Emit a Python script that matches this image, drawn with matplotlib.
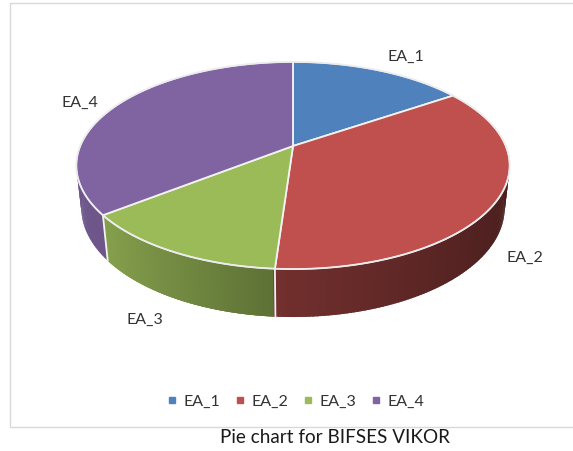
import numpy as np
import matplotlib.pyplot as plt
from matplotlib.colors import to_rgb
from matplotlib.patches import Rectangle
from matplotlib.lines import Line2D

# share of each alternative (BIFSES VIKOR ranking)
labels = ["EA_1", "EA_2", "EA_3", "EA_4"]
values = [15.6, 35.5, 13.4, 35.5]
colors = ["#4F81BD", "#C0504D", "#9BBB59", "#8064A2"]

# where each data label sits (pixels)
label_pos = [(406, 57), (525, 258), (145, 320), (80, 103)]

# --------------------------------------------------
# simple perspective camera for a 3-D disk
# --------------------------------------------------
tilt = np.radians(28)
dist = 4.69
focal = 998
thick = 0.228
cx, cy = 293, 147


def project(x, z, h):
    depth = dist - h * np.sin(tilt) - z * np.cos(tilt)
    X = focal * x / depth
    Y = focal * (h * np.cos(tilt) - z * np.sin(tilt)) / depth
    return cx + X, cy - Y


def rim(t, h):
    # t runs clockwise from the back of the disk
    return project(np.sin(t), -np.cos(t), h)


def shade(rgb, t):
    s = np.sin(t)
    k = 0.58 - 0.35 * s if s < 0 else 0.58 - 0.2 * s
    k = min(max(k, 0.3), 0.86)
    return tuple(c * k for c in rgb)


fig = plt.figure(figsize=(5.73, 4.52), dpi=100)
ax = fig.add_axes([0, 0, 1, 1])
ax.set_xlim(0, 573)
ax.set_ylim(452, 0)
ax.axis("off")

# chart frame
ax.add_patch(Rectangle((10, 4), 575, 424, fill=False,
                       edgecolor="#d9d9d9", linewidth=1))

fracs = np.array(values) / sum(values)
edges = np.concatenate([[0], np.cumsum(fracs)]) * 2 * np.pi

# side wall strips, back to front (slight overlap hides seams)
strips = []
for i in range(len(values)):
    ts = np.linspace(edges[i], edges[i + 1], 150)
    for a, b in zip(ts[:-1], ts[1:]):
        m = 0.5 * (a + b)
        if -np.cos(m) < -0.25:
            continue
        strips.append((-np.cos(m), a, b, i))
strips.sort(key=lambda s: s[0])
for _, a, b, i in strips:
    pad = 0.006
    lo = a if a == 0 else a - pad
    hi = b + pad
    x1, y1 = rim(lo, 0)
    x2, y2 = rim(hi, 0)
    x3, y3 = rim(hi, -thick)
    x4, y4 = rim(lo, -thick)
    col = shade(to_rgb(colors[i]), 0.5 * (a + b))
    ax.fill([x1, x2, x3, x4], [y1, y2, y3, y4], color=col, linewidth=0)

# vertical seams on the wall
for e in edges[1:-1]:
    if -np.cos(e) > -0.1:
        xa, ya = rim(e, 0)
        xb, yb = rim(e, -thick)
        ax.plot([xa, xb], [ya, yb], color="#f2f2f2", linewidth=1.3)

# top face
for i in range(len(values)):
    ts = np.linspace(edges[i], edges[i + 1], 200)
    px, py = rim(ts, 0)
    px = np.concatenate([[cx], px])
    py = np.concatenate([[cy], py])
    ax.fill(px, py, color=colors[i], edgecolor="#f2f2f2", linewidth=1.3)

# light rim around the top
ts = np.linspace(0, 2 * np.pi, 400)
px, py = rim(ts, 0)
ax.plot(px, py, color="#ececec", linewidth=1.0)

# data labels
for lab, (lx, ly) in zip(labels, label_pos):
    ax.text(lx, ly, lab, ha="center", va="center", fontsize=11.5,
            family="Lato", color="#333333")

# legend
handles = [Line2D([], [], marker="s", linestyle="none", markersize=5,
                  markerfacecolor=c, markeredgecolor=c) for c in colors]
ax.legend(handles, labels, loc="center",
          bbox_to_anchor=(296 / 573, 1 - 402 / 452),
          ncol=4, frameon=False, handlelength=0.6, handletextpad=0.4,
          columnspacing=0.95, prop={"family": "Lato", "size": 11.5},
          labelcolor="#333333")

ax.text(335, 438, "Pie chart for BIFSES VIKOR", ha="center", va="center",
        fontsize=13.6, family="Lato", color="#1a1a1a")

fig.savefig("out.png", dpi=100)
